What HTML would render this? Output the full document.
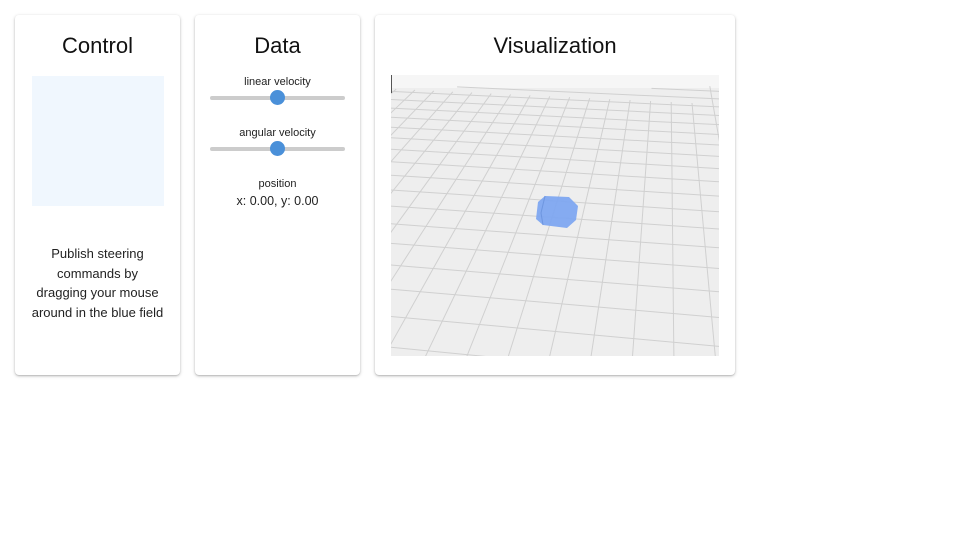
<!DOCTYPE html>
<html><head><meta charset="utf-8"><style>
html,body{margin:0;width:960px;height:540px;overflow:hidden}
body{background:#fff;font-family:"Liberation Sans",Arial,sans-serif;position:relative}
.card{position:absolute;top:15px;height:360px;background:#fff;border-radius:4px;box-shadow:0 1px 3px rgba(0,0,0,.25),0 1px 1px rgba(0,0,0,.1)}
h1{position:absolute;left:0;right:0;margin:0;font-weight:normal;font-size:22px;text-align:center;color:#111}
.t{position:absolute;left:0;right:0;text-align:center;color:#222}
.track{position:absolute;left:15px;width:135px;height:4px;background:#ccc;border-radius:2px}
.thumb{position:absolute;width:15px;height:15px;border-radius:50%;background:#4a90d9;left:75px}
</style></head><body>
<div class="card" style="left:15px;width:165px">
 <h1 style="top:18px">Control</h1>
 <div style="position:absolute;left:17px;top:61px;width:132px;height:130px;background:#f0f7fe"></div>
 <div class="t" style="top:229px;font-size:13px;line-height:19.7px;padding:0 10px">Publish steering<br>commands by<br>dragging your mouse<br>around in the blue field</div>
</div>
<div class="card" style="left:195px;width:165px">
 <h1 style="top:18px">Data</h1>
 <div class="t" style="top:61px;font-size:11px">linear velocity</div>
 <div class="track" style="top:81px"></div><div class="thumb" style="top:75px"></div>
 <div class="t" style="top:112px;font-size:11px">angular velocity</div>
 <div class="track" style="top:132px"></div><div class="thumb" style="top:126px"></div>
 <div class="t" style="top:163px;font-size:11px">position</div>
 <div class="t" style="top:179px;font-size:12.5px">x: 0.00, y: 0.00</div>
</div>
<div class="card" style="left:375px;width:360px">
 <h1 style="top:18px">Visualization</h1>
 <svg id="v" style="position:absolute;left:16px;top:60px;overflow:hidden" width="328" height="281" viewBox="0 0 328 281">
  <rect width="328" height="281" fill="#eeeeee"/>
  <rect width="328" height="13" fill="#f6f6f6"/>
  <g id="g" stroke="#d0d0d0" stroke-width="1" fill="none"></g>
  <line x1="0.5" y1="0" x2="0.5" y2="18" stroke="#555"/>
  <polygon points="147,127 154,121 178,122 187,131 185,145 176,153 152,150 145,144" fill="#7ea6f0" opacity="0.95"/>
  <polyline points="154,121 150,138 152,150" stroke="#6e96e0" fill="none"/>
 </svg>
</div>
<script>
(function(){
var g=document.getElementById('g'),s='';
var cx=200,cy=151,f=520,H=1,p=36*Math.PI/180,cp=Math.cos(p),sp=Math.sin(p);
var a=-0.12,c=Math.cos(a),sn=Math.sin(a),cell=0.1,Zmax=2.62;
function P(X,Z){var x=X*c-Z*sn,z=X*sn+Z*c;var d=z*cp+H*sp,u=-H*cp+z*sp;return [cx+f*x/d,cy-f*u/d,z];}
function seg(p0,q){var pts=[],N=30;for(var i=0;i<=N;i++){var t=i/N;var X=p0[0]+(q[0]-p0[0])*t,Z=p0[1]+(q[1]-p0[1])*t;var r=P(X,Z);if(r[2]>0.5&&r[2]<Zmax)pts.push(r[0].toFixed(1)+','+r[1].toFixed(1));}
 if(pts.length>1)s+='<polyline points="'+pts.join(' ')+'"/>';}
for(var i=-60;i<=60;i++){var X=i*cell;seg([X,-2],[X,5]);}
for(var j=-30;j<=60;j++){var Z=j*cell;seg([-5,Z],[5,Z]);}
g.innerHTML=s;
})();
</script>
</body></html>
